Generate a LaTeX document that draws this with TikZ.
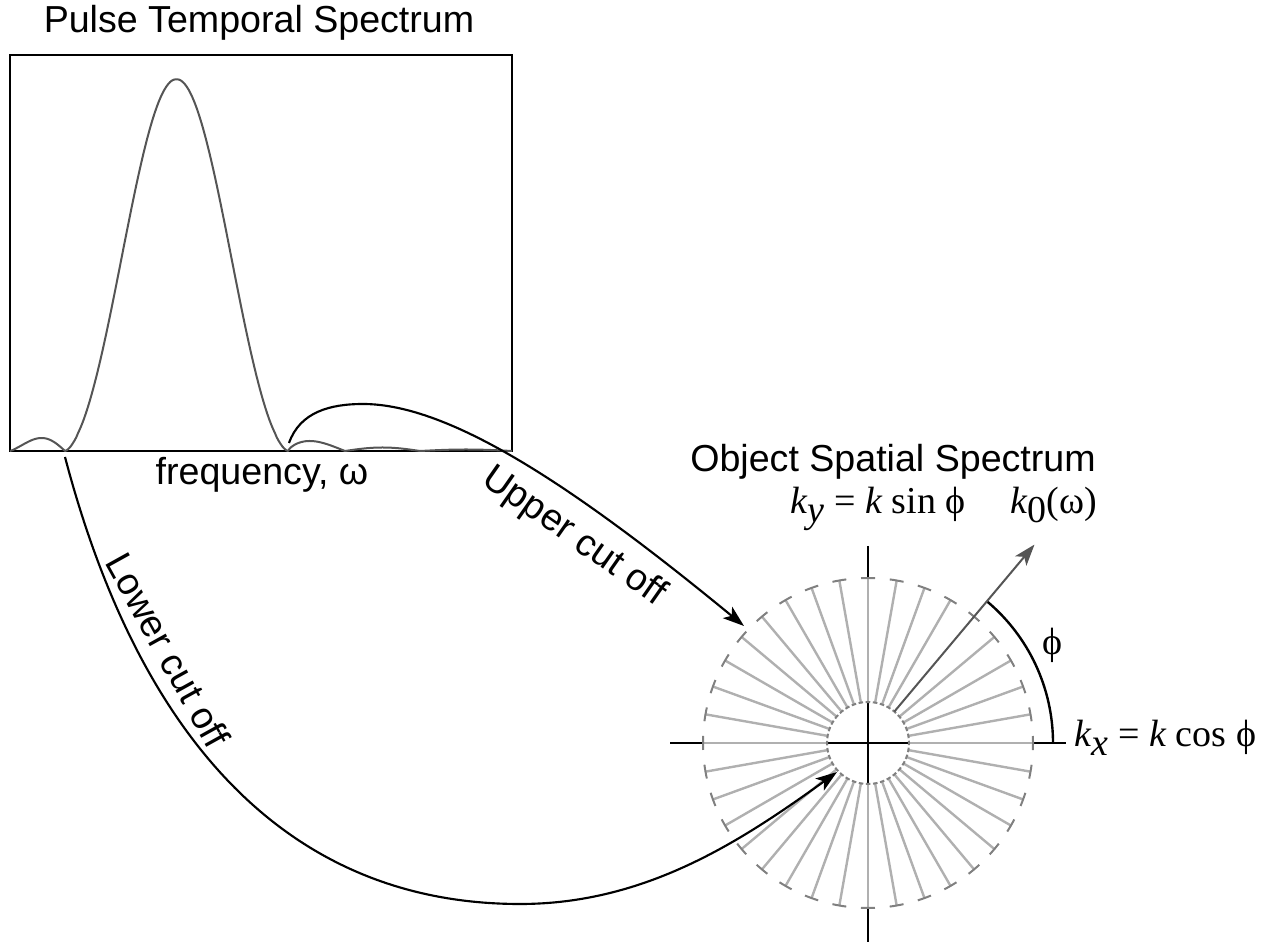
\documentclass[tikz,border=0pt]{standalone}
\usepackage{fontspec}
\setmainfont{Liberation Sans}
\newfontfamily\tmsfont{Liberation Serif}
\usetikzlibrary{arrows.meta}
\definecolor{specgray}{HTML}{555555}
\definecolor{spokegray}{HTML}{B0B0B0}
\definecolor{ringgray}{HTML}{808080}
\newcommand\lowsub[1]{\raisebox{-0.22em}{#1}}
\begin{document}
\begin{tikzpicture}[x=0.75pt,y=0.75pt,
  frame/.style={line width=2.2pt},
  spec/.style={line width=1.5pt, draw=specgray, line join=round},
  conn/.style={line width=1.6pt, -{Stealth[length=16pt,width=11pt,inset=4pt]}},
  axisline/.style={line width=1.8pt},
  spoke/.style={line width=1.8pt, draw=spokegray},
  ring/.style={line width=1.5pt, draw=ringgray},
  sans/.style={inner sep=0pt, font=\fontsize{28.2}{33}\selectfont},
  serif/.style={inner sep=0pt, font=\tmsfont\fontsize{28.5}{34}\selectfont},
]
\useasboundingbox (0,0) rectangle (1266,942);

% ---------- temporal spectrum box ----------
\coordinate (BL) at (10,491);
\coordinate (TR) at (512,887);
\draw[frame] (BL) rectangle (TR);

\draw[spec]
  plot[domain=0:1,samples=30,variable=\t] ({10+55*\t},{491+13*sin(180*pow(\t,1.25))})
  -- plot[domain=-pi:pi,samples=120,variable=\u] ({176.5+111.5*\u/pi},{491+372*pow(abs(sin(\u r)/\u),1.5)})
  -- plot[domain=0:1,samples=30,variable=\t] ({288+57*\t},{491+10*sin(180*pow(\t,0.72))})
  -- plot[domain=0:1,samples=25,variable=\t] ({345+75*\t},{491+3.5*sin(180*\t)})
  -- plot[domain=0:1,samples=25,variable=\t] ({420+92*\t},{491+1.5*sin(180*\t)});

% ---------- spatial spectrum ----------
\coordinate (C) at (868,199);
\draw[axisline] ([xshift=-198*0.75pt]C) -- ([xshift=198*0.75pt]C);
\draw[axisline] ([yshift=197*0.75pt]C) -- ([yshift=-199*0.75pt]C);

\foreach \a in {0,10,...,350}{
  \ifnum\a=50\relax\else
    \draw[spoke] ([shift={(C)}]\a:41) -- ([shift={(C)}]\a:165);
  \fi
}
\draw[ring, dash pattern=on 10.5pt off 11.1pt, dash phase=5.25pt] (C) circle[radius=165];
\draw[ring, dash pattern=on 3.4pt off 1.97pt, dash phase=1.7pt] (C) circle[radius=41];

\draw[axisline] ([shift={(C)}]0:185) arc[start angle=0,end angle=50,radius=185];
\draw[line width=1.5pt, draw=specgray, -{Stealth[length=16pt,width=11pt,inset=4pt]}, color=specgray]
  ([shift={(C)}]50:41) -- ([shift={(C)}]50:259);

% ---------- connectors ----------
\coordinate (U0) at (289,499);
\coordinate (Utop) at (363,538);
\coordinate (Utip) at (744,316);
\draw[conn] (U0) .. controls (300,530) and (330,538) .. (Utop)
  .. controls (450,538) and (575,455) .. (Utip);

\coordinate (L0) at (65,485);
\coordinate (Lbot) at (520,38);
\coordinate (Ltip) at (837,170);
\draw[conn] (L0) .. controls (140,200) and (290,38) .. (Lbot)
  .. controls (645,38) and (740,100) .. (Ltip);

% ---------- labels ----------
\node[sans, anchor=base] (title) at (259,909) {Pulse Temporal Spectrum};
\node[sans, anchor=base] (freq) at (262,457) {frequency, ω};
\node[sans, anchor=base] (obj) at (893,470) {Object Spatial Spectrum};
\node[sans, rotate=-35] (upper) at (574,405) {Upper cut off};
\node[sans, rotate=-61] (lower) at (168,292) {Lower cut off};
\node[serif, anchor=base west] (ky) at (790,428) {\textit{k}\lowsub{\textit{y}} = \textit{k} sin ϕ};
\node[serif, anchor=base west] (k0) at (1010,428) {\textit{k}\lowsub{0}(ω)};
\node[serif] (phi) at (1052,297) {ϕ};
\node[serif, anchor=base west] (kx) at (1074,195) {\textit{k}\lowsub{\textit{x}} = \textit{k} cos ϕ};
\end{tikzpicture}
\end{document}
